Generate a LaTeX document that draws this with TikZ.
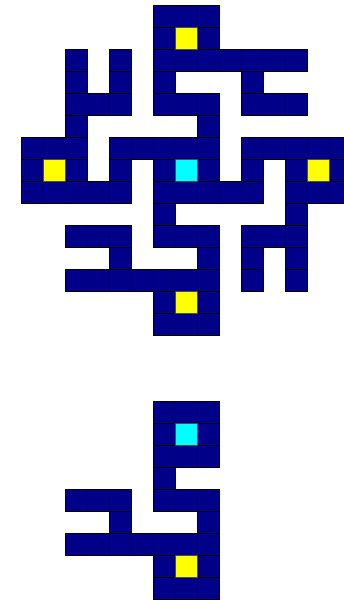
\documentclass[tikz,border=0pt]{standalone}
\usepackage{tikz}
\definecolor{wallblue}{RGB}{0,0,136}
\definecolor{startcyan}{RGB}{0,255,255}
\definecolor{goalyellow}{RGB}{255,255,0}
\tikzset{
    cell/.style={draw=black, thin, fill=wallblue},
    goal/.style={draw=black!70, thin, fill=goalyellow},
    start/.style={draw=black!70, thin, fill=startcyan}
}

\begin{document}
\begin{tikzpicture}[y=-1cm]
\clip (-0.94,-0.214) rectangle (14.695,27.06);
\useasboundingbox (-0.94,-0.214) rectangle (14.695,27.06);

% upper maze
\foreach \r/\cols in {0/{6,7,8}, 1/{6,7,8}, 2/{2,4,6,7,8,9,10,11,12}, 3/{2,4,6,10},
    4/{2,3,4,6,7,8,10,11,12}, 5/{2,8}, 6/{0,1,2,4,5,6,7,8,10,11,12,13,14},
    7/{0,1,2,4,6,7,8,10,12,13,14}, 8/{0,1,2,3,4,6,7,8,9,10,12,13,14}, 9/{6,12},
    10/{2,3,4,6,7,8,10,11,12}, 11/{4,8,10,12}, 12/{2,3,4,5,6,7,8,10,12},
    13/{6,7,8}, 14/{6,7,8},
    % lower maze
    18/{6,7,8}, 19/{6,7,8}, 20/{6,7,8}, 21/{6}, 22/{2,3,4,6,7,8}, 23/{4,8},
    24/{2,3,4,5,6,7,8}, 25/{6,7,8}, 26/{6,7,8}}
    \foreach \c in \cols
        \draw[cell] (\c,\r) rectangle ++(1,1);

\foreach \c/\r in {7/1, 1/7, 13/7, 7/13, 7/25}
    \draw[goal] (\c,\r) rectangle ++(1,1);
\foreach \c/\r in {7/7, 7/19}
    \draw[start] (\c,\r) rectangle ++(1,1);

\end{tikzpicture}
\end{document}
